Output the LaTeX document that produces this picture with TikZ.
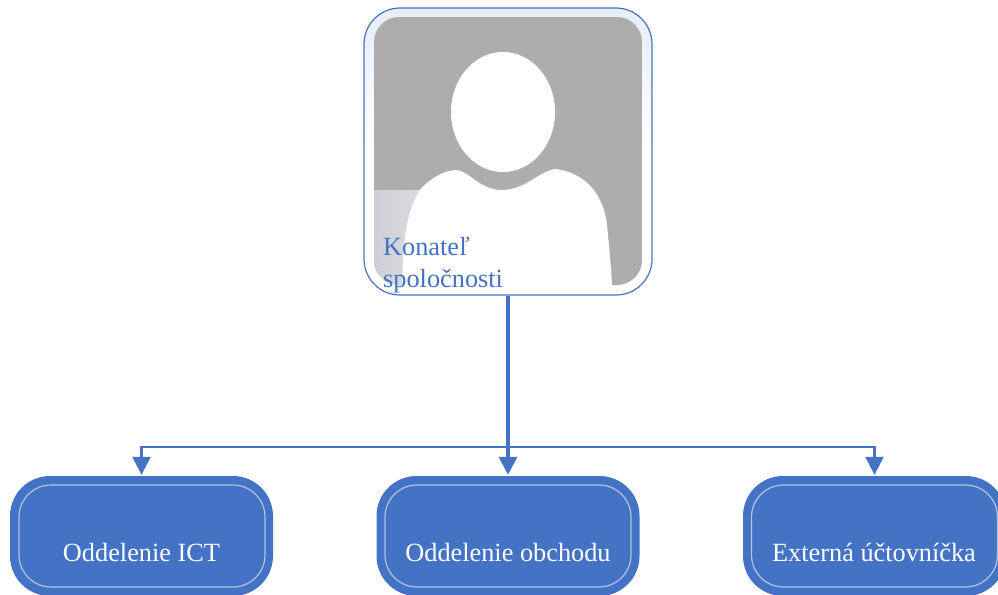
\documentclass[tikz,border=0pt]{standalone}
\usepackage{fontspec}
\setmainfont{Liberation Serif}
\usetikzlibrary{arrows.meta}
\definecolor{blu}{HTML}{4472C4}
\definecolor{innerl}{HTML}{B4C2DE}
\definecolor{photo}{HTML}{ADADAD}
\definecolor{veilL}{HTML}{CFD0D6}
\definecolor{veilR}{HTML}{E6E7EC}
\tikzset{
  x=1pt,y=-1pt,
  outerbox/.style={draw=none,fill=blu,rounded corners=40pt,minimum width=263pt,minimum height=120pt,inner sep=0pt},
  innerbox/.style={draw=innerl,line width=1.2pt,rounded corners=32pt,minimum width=246pt,minimum height=102pt,inner sep=0pt},
  boxtext/.style={text=white,font=\fontsize{26.3}{30}\selectfont,anchor=base,inner sep=0pt},
  conn/.style={draw=blu,line width=2.4pt,-{Triangle[length=18pt,width=18pt]},shorten >=1pt},
  trunk/.style={conn,line width=3.2pt},
  framebox/.style={draw=blu,line width=1.2pt,rounded corners=36pt,minimum width=288pt,minimum height=287pt,inner sep=0pt,top color=blu!13,bottom color=white,middle color=white},
  nametext/.style={text=blu,font=\fontsize{26.3}{32}\selectfont,align=left,anchor=base west,inner sep=0pt},
}
\begin{document}
\begin{tikzpicture}
\useasboundingbox (0,0) rectangle (998,594);
\begin{scope}
\clip (0,0) rectangle (998,594);
\node[outerbox] (ict) at (141.5,536) {};
\node[innerbox] (icti) at (142,536) {};
\node[boxtext] (ictt) at (141.5,561) {Oddelenie ICT};
\node[outerbox] (obch) at (508,536) {};
\node[innerbox] (obchi) at (508,536) {};
\node[boxtext] (obcht) at (508,561) {Oddelenie obchodu};
\node[outerbox] (ext) at (874.5,536) {};
\node[innerbox] (exti) at (874.5,536) {};
\node[boxtext] (extt) at (874,561) {Externá účtovníčka};
\end{scope}
\node[framebox] (top) at (508,151.5) {};
\begin{scope}
\clip[rounded corners=25pt] (374,17) rectangle (642,285);
\fill[photo] (374,17) rectangle (642,285);
\shade[left color=veilL,right color=veilR] (374,190) rectangle (470,285);
\fill[white] (402,286) .. controls (403,250) and (404,215) .. (420,190)
  .. controls (430,178) and (445,170) .. (457,170)
  .. controls (470,172) and (480,190) .. (502,190)
  .. controls (525,190) and (538,172) .. (555,169)
  .. controls (585,172) and (604,195) .. (607,225)
  .. controls (609,245) and (611,265) .. (612,286) -- cycle;
\fill[white] (503,112) ellipse [x radius=52,y radius=60];
\end{scope}
\node[nametext] (name) at (383,287) {Konateľ\\spoločnosti};
\coordinate (bus) at (508,447);
\draw[trunk] (top.south) -- (obch.north);
\draw[conn] (bus) -| (ict.north);
\draw[conn] (bus) -| (ext.north);
\end{tikzpicture}
\end{document}
